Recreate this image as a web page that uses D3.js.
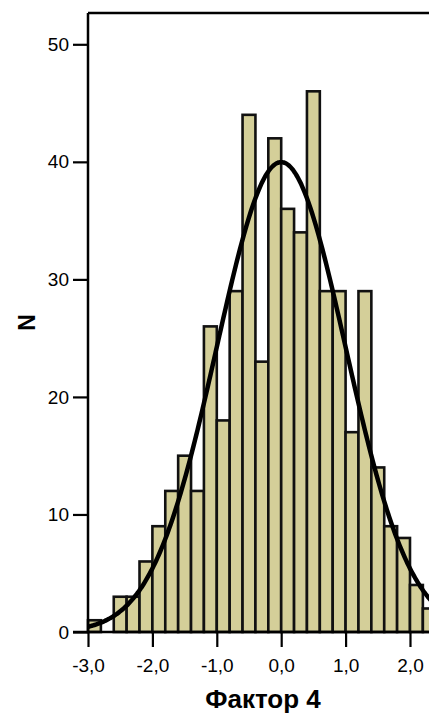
<!DOCTYPE html>
<html lang="ru">
<head>
  <meta charset="UTF-8">
  <title>Фактор 4</title>
  <script src="https://d3js.org/d3.v7.min.js"></script>
  <style>
    body { margin: 0; background: #fff; }
    svg { display: block; font-family: "Liberation Sans", Arial, sans-serif; }
    .tick text { font-size: 19px; fill: #000; }
    .axis-title { font-weight: bold; fill: #000; }
  </style>
</head>
<body>
  <div id="chart"></div>
  <script>
    // histogram bins (lower edge) and counts
    const binStarts = [-3.0, -2.8, -2.6, -2.4, -2.2, -2.0, -1.8, -1.6, -1.4, -1.2,
                       -1.0, -0.8, -0.6, -0.4, -0.2, 0.0, 0.2, 0.4, 0.6, 0.8,
                       1.0, 1.2, 1.4, 1.6, 1.8, 2.0, 2.2];
    const counts = [1, 0, 3, 3, 6, 9, 12, 15, 12, 26,
                    18, 29, 44, 23, 42, 36, 34, 46, 29, 29,
                    17, 29, 14, 9, 8, 4, 2];
    const binWidth = 0.2;

    // normal curve overlay
    const curveMean = 0;
    const curveSd = 1.0;
    const curveN = 501;

    const xTicks = [-3, -2, -1, 0, 1, 2];
    const yTicks = [0, 10, 20, 30, 40, 50];

    const width = 429;
    const height = 715;
    const plotLeft = 88, plotTop = 13, plotBottom = 632;
    const plotRight = 438;   // plot runs past the right edge of the picture

    const x = d3.scaleLinear().domain([-3, 2.435]).range([plotLeft, plotRight]);
    const y = d3.scaleLinear().domain([0, 50]).range([plotBottom, 44.3]);

    const svg = d3.select("#chart")
      .append("svg")
      .attr("width", width)
      .attr("height", height);

    // bars
    svg.append("g")
      .selectAll("rect")
      .data(binStarts.map((b, i) => ({ b, n: counts[i] })).filter(d => d.n > 0))
      .enter()
      .append("rect")
      .attr("x", d => x(d.b))
      .attr("y", d => y(d.n))
      .attr("width", d => x(d.b + binWidth) - x(d.b))
      .attr("height", d => y(0) - y(d.n))
      .attr("fill", "#d4cf99")
      .attr("stroke", "#111")
      .attr("stroke-width", 2.6);

    // normal curve
    const pts = d3.range(-3, 2.6, 0.02).map(v => [v,
      curveN * binWidth / (curveSd * Math.sqrt(2 * Math.PI)) *
      Math.exp(-0.5 * Math.pow((v - curveMean) / curveSd, 2))]);

    svg.append("path")
      .datum(pts)
      .attr("fill", "none")
      .attr("stroke", "#000")
      .attr("stroke-width", 4.5)
      .attr("d", d3.line().x(d => x(d[0])).y(d => y(d[1])).curve(d3.curveMonotoneX));

    // frame top + right
    svg.append("path")
      .attr("d", `M${plotLeft},${plotTop}H${plotRight}V${plotBottom}`)
      .attr("fill", "none")
      .attr("stroke", "#000")
      .attr("stroke-width", 2.5);

    const fmt = d => d3.format(".1f")(d).replace(".", ",").replace("−", "-");

    const xAxis = svg.append("g")
      .attr("transform", `translate(0,${plotBottom})`)
      .call(d3.axisBottom(x).tickValues(xTicks).tickSize(15).tickPadding(12).tickFormat(fmt));

    const yAxis = svg.append("g")
      .attr("transform", `translate(${plotLeft},0)`)
      .call(d3.axisLeft(y).tickValues(yTicks).tickSize(15).tickPadding(4).tickFormat(d3.format("d")));

    [xAxis, yAxis].forEach(g => {
      g.select(".domain").remove();
      g.selectAll(".tick line").attr("stroke", "#000").attr("stroke-width", 2.2);
      g.selectAll(".tick text").attr("font-family", null).attr("font-size", null);
    });

    // axis lines
    svg.append("line")
      .attr("x1", plotLeft).attr("x2", plotLeft)
      .attr("y1", plotTop).attr("y2", plotBottom + 1)
      .attr("stroke", "#000").attr("stroke-width", 2.5);
    svg.append("line")
      .attr("x1", plotLeft - 15).attr("x2", plotRight)
      .attr("y1", plotBottom).attr("y2", plotBottom)
      .attr("stroke", "#000").attr("stroke-width", 2.5);

    // titles
    svg.append("text")
      .attr("class", "axis-title")
      .attr("x", (plotLeft + plotRight) / 2)
      .attr("y", 708)
      .attr("text-anchor", "middle")
      .attr("font-size", 26)
      .text("Фактор 4");

    svg.append("text")
      .attr("class", "axis-title")
      .attr("transform", `translate(35,${(plotTop + plotBottom) / 2}) rotate(-90)`)
      .attr("text-anchor", "middle")
      .attr("font-size", 23)
      .text("N");
  </script>
</body>
</html>
